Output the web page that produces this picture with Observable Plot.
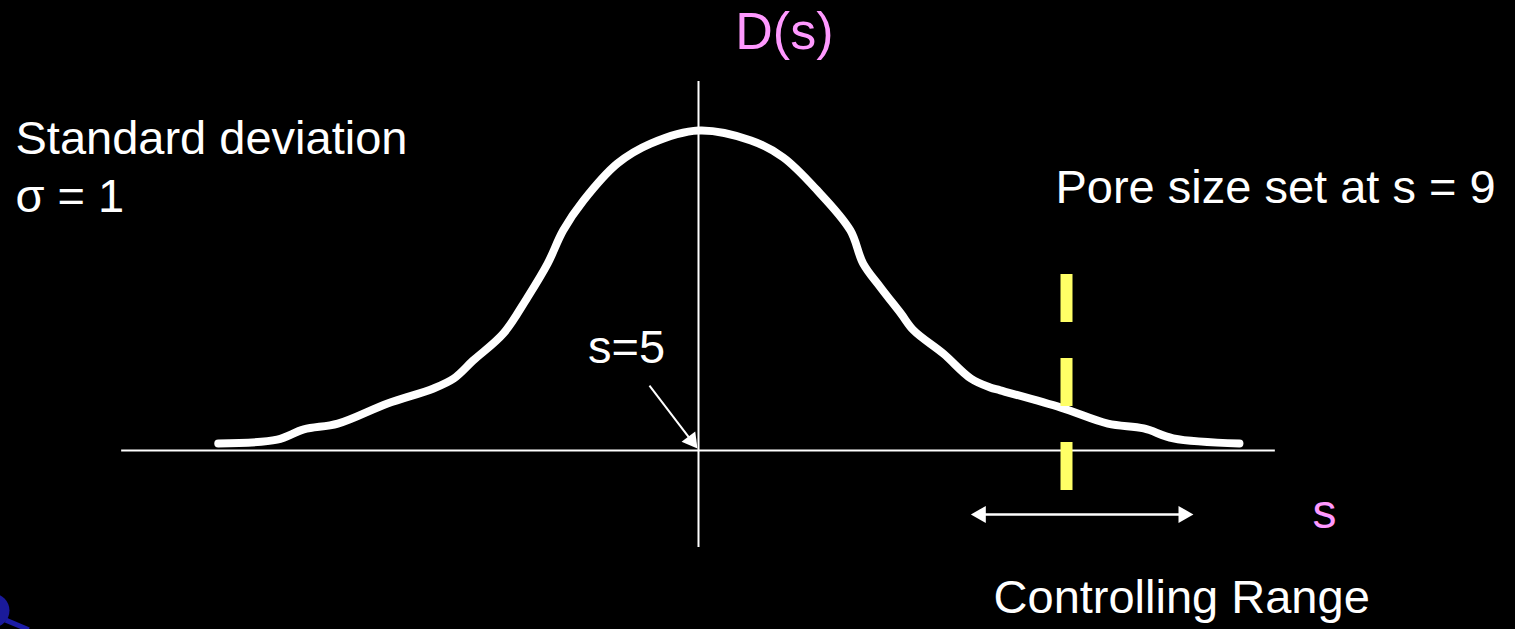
<!DOCTYPE html>
<html>
<head>
<meta charset="utf-8">
<script src="https://cdn.jsdelivr.net/npm/d3@7"></script>
<script src="https://cdn.jsdelivr.net/npm/@observablehq/plot@0.6"></script>
<style>
  html, body { margin: 0; padding: 0; background: #000; }
  #chart svg { display: block; }
</style>
</head>
<body>
<div id="chart"></div>
<script>
// Hand-drawn distribution D(s), s = pore size (mean 5, sigma 1)
const curveS = [-0.22, 0.42, 0.71, 1.08, 1.62, 2.12, 2.34, 2.55, 2.88, 3.14, 3.36, 3.53, 3.75, 4.12, 4.48, 5.0,
                5.57, 5.92, 6.29, 6.65, 6.79, 6.98, 7.20, 7.34, 7.66, 7.96, 8.17, 8.28, 8.94, 9.45, 9.84, 10.16, 10.88];
const curveD = [0.022, 0.034, 0.066, 0.084, 0.147, 0.194, 0.225, 0.281, 0.366, 0.478, 0.584, 0.688, 0.781, 0.897, 0.959, 1.0,
                0.969, 0.916, 0.813, 0.688, 0.584, 0.509, 0.428, 0.375, 0.303, 0.225, 0.197, 0.188, 0.134, 0.084, 0.069, 0.038, 0.022];

const meanS = 5;       // s = 5 (vertical axis)
const poreS = 9;       // pore size set at s = 9
const rangeS = [7.96, 10.38]; // controlling range arrow
const xAxisExtent = [-1.27, 11.27];
const yAxisExtent = [-0.303, 1.153];
const poreExtent = [0.55, -0.125];

const labels = [
  {text: "D(s)", s: 5.40, d: 1.256, color: "#ff99ff", size: 52},
  {text: "Standard deviation", s: -2.424, d: 0.928, color: "#ffffff", size: 47},
  {text: "σ = 1", s: -2.424, d: 0.744, color: "#ffffff", size: 47},
  {text: "Pore size set at s = 9", s: 8.88, d: 0.775, color: "#ffffff", size: 47},
  {text: "s=5", s: 3.80, d: 0.275, color: "#ffffff", size: 47},
  {text: "s", s: 11.674, d: -0.241, color: "#ff99ff", size: 48},
  {text: "Controlling Range", s: 8.207, d: -0.509, color: "#ffffff", size: 47}
];

const curve = curveS.map((s, i) => ({s, d: curveD[i]}));
const W = 1515, H = 629;
const pxPerS = 92, pxPerD = 320;
const sAt0 = meanS - 698 / pxPerS;
const dAt0 = 450 / pxPerD;

const arrowY = -0.2;
const pointerFrom = {s: 4.467, d: 0.203};
const pointerTip = {s: 4.923, d: 0.031};

const font = "Liberation Sans, Arial, Helvetica, sans-serif";

const plot = Plot.plot({
  width: W, height: H,
  margin: 0,
  style: {background: "#000", fontFamily: font},
  x: {domain: [sAt0, sAt0 + W / pxPerS], axis: null},
  y: {domain: [dAt0 - H / pxPerD, dAt0], axis: null},
  marks: [
    // logo fragment bottom-left
    Plot.link([{x1: -2.53, y1: -0.53, x2: -2.28, y2: -0.56}], {x1: "x1", y1: "y1", x2: "x2", y2: "y2", stroke: "#1c1ca6", strokeWidth: 5}),
    Plot.dot([{s: -2.674, d: -0.5}], {x: "s", y: "d", r: 17, fill: "#1a1a9a"}),
    // axes
    Plot.ruleY([0], {x1: xAxisExtent[0], x2: xAxisExtent[1], stroke: "#fff", strokeWidth: 2}),
    Plot.ruleX([meanS], {y1: yAxisExtent[0], y2: yAxisExtent[1], stroke: "#fff", strokeWidth: 2}),
    // curve
    Plot.line(curve, {x: "s", y: "d", stroke: "#fff", strokeWidth: 8, curve: "catmull-rom", strokeLinejoin: "round"}),
    // pore size dashed line
    Plot.ruleX([poreS], {y1: poreExtent[0], y2: poreExtent[1], stroke: "#ffff66", strokeWidth: 12, strokeDasharray: "48,36"}),
    // controlling range double arrow
    Plot.ruleY([arrowY], {x1: rangeS[0] + 0.1, x2: rangeS[1] - 0.1, stroke: "#fff", strokeWidth: 2.5}),
    Plot.dot([{s: rangeS[1] - 10 / pxPerS, r: 90}, {s: rangeS[0] + 10 / pxPerS, r: -90}],
      {x: "s", y: () => arrowY, symbol: "triangle", r: 6.4, fill: "#fff", stroke: "none", rotate: "r"}),
    // s=5 pointer
    Plot.link([{x1: pointerFrom.s, y1: pointerFrom.d, x2: pointerTip.s, y2: pointerTip.d}],
      {x1: "x1", y1: "y1", x2: "x2", y2: "y2", stroke: "#fff", strokeWidth: 2}),
    Plot.dot([pointerTip], {x: "s", y: "d", symbol: "triangle", r: 6.4, fill: "#fff", stroke: "none", rotate: 142.7}),
    // labels
    ...labels.map(l => Plot.text([l], {x: "s", y: "d", text: "text", fill: "color", fontSize: l.size,
      textAnchor: "start", lineAnchor: "bottom", fontFamily: font}))
  ]
});
document.getElementById("chart").appendChild(plot);
</script>
</body>
</html>
